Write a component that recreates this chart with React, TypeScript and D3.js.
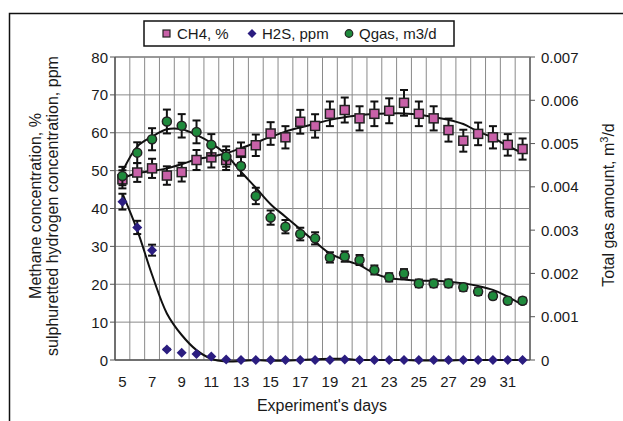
import * as React from 'react';
import * as d3 from 'd3';

// experiment days (category axis)
const days = [5, 6, 7, 8, 9, 10, 11, 12, 13, 14, 15, 16, 17, 18, 19, 20, 21, 22, 23, 24, 25, 26, 27, 28, 29, 30, 31, 32];
const dayLabels = [5, 7, 9, 11, 13, 15, 17, 19, 21, 23, 25, 27, 29, 31];

// CH4, %
const ch4 = [47.7, 49.5, 50.6, 48.7, 49.6, 52.8, 53.5, 52.8, 54.7, 56.7, 59.8, 58.8, 62.9, 61.8, 65.0, 66.0, 63.8, 65.0, 65.8, 67.9, 65.0, 63.8, 60.7, 57.9, 59.7, 58.8, 56.8, 55.7];
const ch4Trend = [48.0, 49.3, 49.9, 50.6, 51.7, 53.0, 53.7, 54.6, 55.9, 57.4, 58.9, 60.3, 61.4, 62.4, 63.4, 64.1, 64.6, 65.0, 65.1, 65.1, 64.8, 64.1, 63.4, 62.3, 60.3, 58.7, 56.5, 54.6];

// H2S, ppm
const h2s = [41.8, 35.0, 29.0, 2.8, 1.9, 1.6, 0.9, 0.1, 0, 0, 0, 0, 0, 0, 0, 0.1, 0, 0, 0, 0, 0, 0, 0, 0, 0, 0, 0, 0];
const h2sTrend = [44.0, 34.3, 22.5, 12.3, 6.6, 2.6, 0.3, -0.4, -0.3, 0, -0.2, -0.2, 0, 0.2, 0.3, 0.3, 0, 0, 0, 0, -0.1, -0.1, -0.1, 0, 0, 0, 0, 0];

// Qgas, m3/d (secondary axis)
const qgas = [0.00425, 0.00479, 0.00510, 0.00551, 0.00541, 0.00527, 0.00497, 0.00470, 0.00448, 0.00379, 0.00329, 0.00308, 0.00291, 0.00281, 0.00237, 0.00239, 0.00231, 0.00208, 0.00191, 0.00200, 0.00177, 0.00177, 0.00177, 0.00168, 0.00158, 0.00148, 0.00137, 0.00137];
const qgasTrend = [0.00435, 0.00493, 0.00516, 0.00533, 0.00533, 0.00520, 0.00501, 0.00474, 0.00435, 0.00398, 0.00360, 0.00331, 0.00302, 0.00273, 0.00246, 0.00231, 0.00219, 0.00200, 0.00189, 0.00186, 0.00183, 0.00183, 0.00181, 0.00177, 0.00171, 0.00162, 0.00146, 0.00127];

const leftTicks = [0, 10, 20, 30, 40, 50, 60, 70, 80];
const rightTicks = [0, 0.001, 0.002, 0.003, 0.004, 0.005, 0.006, 0.007];

const errPct = 0.05;

const W = 623, H = 421;
const left = 115, right = 530, top = 57, bottom = 360;
const font = '"Liberation Sans", Arial, sans-serif';
const ink = '#1a1a1a';

export default function App() {
    const x = d3.scaleBand<number>().domain(days).range([left, right]).padding(0);
    const cx = (d: number) => (x(d) as number) + x.bandwidth() / 2;
    const yL = d3.scaleLinear().domain([0, 80]).range([bottom, top]);
    const yR = d3.scaleLinear().domain([0, 0.007]).range([bottom, top]);

    const trend = (scale: d3.ScaleLinear<number, number>) => d3.line<number>()
        .curve(d3.curveCatmullRom)
        .x((_, i) => cx(days[i]))
        .y(v => scale(v));

    const errBar = (d: number, v: number, scale: d3.ScaleLinear<number, number>, key: string) => {
        const px = cx(d);
        const y1 = scale(v * (1 + errPct)), y2 = scale(v * (1 - errPct));
        if (Math.abs(y2 - y1) < 1) return null;
        return (
            <g key={key} stroke="#111" strokeWidth={2}>
                <line x1={px} x2={px} y1={y1} y2={y2} />
                <line x1={px - 4} x2={px + 4} y1={y1} y2={y1} />
                <line x1={px - 4} x2={px + 4} y1={y2} y2={y2} />
            </g>
        );
    };

    const diamond = (px: number, py: number, r: number) => `M${px},${py - r}L${px + r},${py}L${px},${py + r}L${px - r},${py}Z`;

    return (
        <svg width={W} height={H} style={{ position: 'absolute', left: 0, top: 0 }} fontFamily={font}>
            <rect x={0} y={0} width={W} height={H} fill="#fff" />
            <rect x={9.5} y={13.5} width={W} height={H} fill="none" stroke="#111" strokeWidth={1.5} />

            {/* gridlines */}
            {leftTicks.map(t => (
                <line key={'h' + t} x1={left} x2={right} y1={yL(t)} y2={yL(t)} stroke="#8a8a8a" strokeWidth={1} />
            ))}
            {days.map(d => (
                <line key={'v' + d} x1={x(d)} x2={x(d)} y1={top} y2={bottom} stroke="#8a8a8a" strokeWidth={1} />
            ))}
            <line x1={left} x2={right} y1={top} y2={top} stroke="#8a8a8a" strokeWidth={1.5} />
            <line x1={right} x2={right} y1={top} y2={bottom} stroke="#7a7a7a" strokeWidth={2} />

            {/* axes */}
            <line x1={left} x2={left} y1={top} y2={bottom} stroke="#555" strokeWidth={1.5} />
            <line x1={left} x2={right} y1={bottom} y2={bottom} stroke="#555" strokeWidth={1.5} />
            {leftTicks.map(t => (
                <g key={'lt' + t}>
                    <line x1={left - 5} x2={left} y1={yL(t)} y2={yL(t)} stroke="#555" />
                    <text x={108} y={yL(t) + 5.5} textAnchor="end" fontSize={15} fill={ink}>{t}</text>
                </g>
            ))}
            {rightTicks.map(t => (
                <g key={'rt' + t}>
                    <line x1={right} x2={right + 5} y1={yR(t)} y2={yR(t)} stroke="#555" />
                    <text x={541} y={yR(t) + 5.5} fontSize={15} fill={ink}>{t === 0 ? '0' : d3.format('.3f')(t)}</text>
                </g>
            ))}
            {dayLabels.map(d => (
                <text key={'xl' + d} x={cx(d)} y={387} textAnchor="middle" fontSize={15} fill={ink}>{d}</text>
            ))}

            {/* axis titles */}
            <text x={322} y={411} textAnchor="middle" fontSize={16} fill={ink}>Experiment's days</text>
            <text transform="translate(40.5,206) rotate(-90)" textAnchor="middle" fontSize={16} fill={ink}>Methane concentration, %</text>
            <text transform="translate(58,206) rotate(-90)" textAnchor="middle" fontSize={16} fill={ink}>sulphuretted hydrogen concentration, ppm</text>
            <text transform="translate(614,205) rotate(-90)" textAnchor="middle" fontSize={16} fill={ink}>
                Total gas amount, m<tspan dy={-6} fontSize={11}>3</tspan><tspan dy={6}>/d</tspan>
            </text>

            {/* trendlines */}
            <path d={trend(yL)(ch4Trend) || undefined} fill="none" stroke="#111" strokeWidth={2} />
            <path d={trend(yL)(h2sTrend) || undefined} fill="none" stroke="#111" strokeWidth={2} />
            <path d={trend(yR)(qgasTrend) || undefined} fill="none" stroke="#111" strokeWidth={2} />

            {/* CH4 */}
            {days.map((d, i) => errBar(d, ch4[i], yL, 'ce' + d))}
            {days.map((d, i) => (
                <rect key={'cm' + d} x={cx(d) - 4.5} y={yL(ch4[i]) - 4.5} width={9} height={9} fill="#c861a8" stroke="#222" strokeWidth={1.5} />
            ))}

            {/* H2S */}
            {days.map((d, i) => errBar(d, h2s[i], yL, 'he' + d))}
            {days.map((d, i) => (
                <path key={'hm' + d} d={diamond(cx(d), yL(h2s[i]), 5)} fill="#2b1d80" />
            ))}

            {/* Qgas */}
            {days.map((d, i) => errBar(d, qgas[i], yR, 'qe' + d))}
            {days.map((d, i) => (
                <circle key={'qm' + d} cx={cx(d)} cy={yR(qgas[i])} r={4.5} fill="#1f8a3c" stroke="#222" strokeWidth={1.5} />
            ))}

            {/* legend */}
            <rect x={144} y={21} width={310} height={25} fill="#fff" stroke="#111" strokeWidth={1.5} />
            <rect x={163} y={30} width={7} height={7} fill="#c861a8" stroke="#222" strokeWidth={1.2} />
            <text x={177} y={39} fontSize={15} fill={ink}>CH4, %</text>
            <path d={diamond(252, 33.5, 4.5)} fill="#2b1d80" />
            <text x={262} y={39} fontSize={15} fill={ink}>H2S, ppm</text>
            <circle cx={349} cy={33.5} r={3.8} fill="#1f8a3c" stroke="#222" strokeWidth={1.2} />
            <text x={359} y={39} fontSize={15} fill={ink}>Qgas, m3/d</text>
        </svg>
    );
}
